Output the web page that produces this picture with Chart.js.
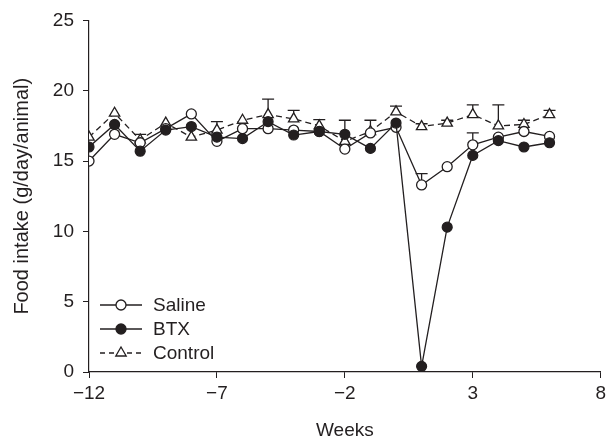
<!DOCTYPE html>
<html>
<head>
<meta charset="utf-8">
<script src="https://cdn.jsdelivr.net/npm/chart.js@4/dist/chart.umd.min.js"></script>
<style>
  html, body { margin: 0; padding: 0; background: #fff; }
  #wrap { width: 608px; height: 442px; position: relative; }
</style>
</head>
<body>
<div id="wrap"><canvas id="c" width="608" height="442"></canvas></div>
<script>
// ---- data ----
const weeks = [-12,-11,-10,-9,-8,-7,-6,-5,-4,-3,-2,-1,0,1,2,3,4,5,6];
const saline  = [15.0,16.9,16.3,17.3,18.35,16.4,17.3,17.3,17.2,17.1,15.85,17.0,17.4,13.3,14.6,16.15,16.7,17.1,16.75];
const btx     = [16.0,17.6,15.7,17.2,17.45,16.7,16.6,17.8,16.85,17.1,16.9,15.9,17.7,0.4,10.3,15.4,16.45,16.0,16.3];
const control = [16.7,18.4,16.5,17.7,16.7,17.2,17.9,18.3,18.0,17.5,16.4,17.1,18.5,17.45,17.7,18.3,17.5,17.6,18.3];
// upward error (SEM) per point, 0 = none drawn
const salineErr  = [0,0,0,0,0,0,0,0,0,0,0,0,0,0.8,0,0.85,0,0,0];
const btxErr     = [0,0,0,0,0,0,0,0,0,0,0,0,0,0,0,0,0,0,0];
const controlErr = [0,0,0.4,0,0,0.6,0,1.1,0.6,0.45,1.5,0.8,0.4,0.2,0.2,0.7,1.5,0.3,0.3];
const xTicks = [-12,-7,-2,3,8];
const yTicks = [0,5,10,15,20,25];
const seriesNames = ['Saline','BTX','Control'];

const INK = '#231f20';
const FONT = '"Liberation Sans", Arial, Helvetica, sans-serif';

const toPts = arr => weeks.map((w,i) => ({x: w, y: arr[i]}));

const errorBars = {
  id: 'errorBars',
  beforeDatasetsDraw(chart) {
    const ctx = chart.ctx, xs = chart.scales.x, ys = chart.scales.y;
    const sets = [[saline, salineErr],[btx, btxErr],[control, controlErr]];
    ctx.save();
    ctx.strokeStyle = INK; ctx.lineWidth = 1.3;
    sets.forEach(([vals, errs]) => {
      vals.forEach((v,i) => {
        if (!errs[i]) return;
        const px = xs.getPixelForValue(weeks[i]);
        const py = ys.getPixelForValue(v);
        const pt = ys.getPixelForValue(v + errs[i]);
        ctx.beginPath();
        ctx.moveTo(px, py); ctx.lineTo(px, pt);
        ctx.moveTo(px - 6, pt); ctx.lineTo(px + 6, pt);
        ctx.stroke();
      });
    });
    ctx.restore();
  }
};

const legendPlugin = {
  id: 'customLegend',
  afterDraw(chart) {
    const ctx = chart.ctx;
    const rows = [
      {name: seriesNames[0], y: 305, fill: '#fff', style: 'circle', dash: []},
      {name: seriesNames[1], y: 329, fill: INK, style: 'circle', dash: []},
      {name: seriesNames[2], y: 353, fill: '#fff', style: 'triangle', dash: [5,4]},
    ];
    ctx.save();
    rows.forEach(r => {
      ctx.strokeStyle = INK; ctx.lineWidth = 1.3;
      ctx.setLineDash(r.dash);
      ctx.beginPath(); ctx.moveTo(100, r.y); ctx.lineTo(142, r.y); ctx.stroke();
      ctx.setLineDash([]);
      ctx.fillStyle = r.fill;
      ctx.beginPath();
      if (r.style === 'circle') {
        ctx.arc(121, r.y, 5, 0, Math.PI*2);
      } else {
        const rad = 6;
        ctx.moveTo(121, r.y - rad);
        ctx.lineTo(121 + rad*0.866, r.y + rad*0.5);
        ctx.lineTo(121 - rad*0.866, r.y + rad*0.5);
        ctx.closePath();
      }
      ctx.fill(); ctx.stroke();
      ctx.fillStyle = INK;
      ctx.font = '19px ' + FONT;
      ctx.textBaseline = 'middle';
      ctx.textAlign = 'left';
      ctx.fillText(r.name, 153, r.y + 1);
    });
    ctx.restore();
  }
};

const axisCommon = {
  grid: { display: true, drawOnChartArea: false, drawTicks: true, tickLength: 6, color: INK, lineWidth: 1 },
  border: { display: true, color: INK, width: 1.2 },
};

new Chart(document.getElementById('c'), {
  type: 'line',
  data: {
    datasets: [
      { label: seriesNames[1], data: toPts(btx), order: 1,
        borderColor: INK, borderWidth: 1.3, backgroundColor: INK,
        pointStyle: 'circle', pointRadius: 5, pointBackgroundColor: INK, pointBorderColor: INK, pointBorderWidth: 1.2 },
      { label: seriesNames[0], data: toPts(saline), order: 2,
        borderColor: INK, borderWidth: 1.3, backgroundColor: '#fff',
        pointStyle: 'circle', pointRadius: 5, pointBackgroundColor: '#fff', pointBorderColor: INK, pointBorderWidth: 1.3 },
      { label: seriesNames[2], data: toPts(control), order: 3,
        borderColor: INK, borderWidth: 1.3, borderDash: [6,4], backgroundColor: '#fff',
        pointStyle: 'triangle', pointRadius: 6, pointBackgroundColor: '#fff', pointBorderColor: INK, pointBorderWidth: 1.3 },
    ]
  },
  options: {
    responsive: false,
    animation: false,
    devicePixelRatio: 1,
    layout: { padding: { top: 20, right: 7, left: 0, bottom: 0 } },
    plugins: { legend: { display: false }, tooltip: { enabled: false } },
    elements: { line: { tension: 0 } },
    scales: {
      x: {
        ...axisCommon,
        type: 'linear', min: -12, max: 8,
        afterBuildTicks: axis => { axis.ticks = xTicks.map(v => ({value: v})); },
        afterFit: s => { s.height = 70; s.paddingRight = 0; },
        ticks: { color: INK, font: { family: FONT, size: 19 }, padding: 4,
          callback: v => v < 0 ? '\u2212' + Math.abs(v) : String(v) },
        title: { display: true, text: 'Weeks', color: INK, font: { family: FONT, size: 19 }, padding: { top: 0, bottom: 0 } }
      },
      y: {
        ...axisCommon,
        type: 'linear', min: 0, max: 25,
        afterBuildTicks: axis => { axis.ticks = yTicks.map(v => ({value: v})); },
        afterFit: s => { s.width = 89; },
        ticks: { color: INK, font: { family: FONT, size: 19 }, padding: 9 },
        title: { display: true, text: 'Food intake (g/day/animal)', color: INK, font: { family: FONT, size: 20 }, padding: { top: 10, bottom: 0 } }
      }
    }
  },
  plugins: [errorBars, legendPlugin]
});
</script>
</body>
</html>
